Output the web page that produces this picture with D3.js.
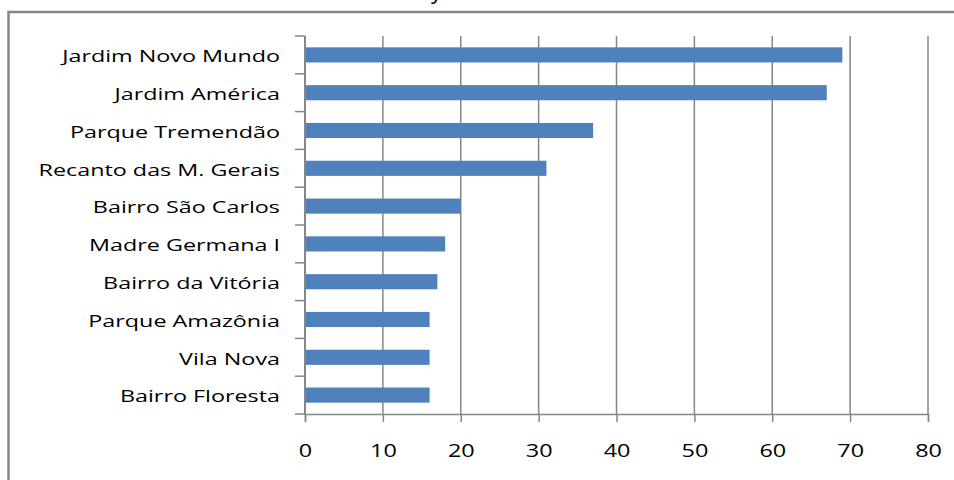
<!DOCTYPE html>
<html>
<head>
<meta charset="utf-8">
<script src="https://cdn.jsdelivr.net/npm/d3@7"></script>
<style>
  body { margin: 0; background: #fff; }
  svg { display: block; }
  text { font-family: "Open Sans", "Noto Sans", sans-serif; fill: #000; }
</style>
</head>
<body>
<div id="chart"></div>
<script>
// neighbourhoods, top to bottom
var bairros = ["Jardim Novo Mundo", "Jardim América", "Parque Tremendão", "Recanto das M. Gerais",
  "Bairro São Carlos", "Madre Germana I", "Bairro da Vitória", "Parque Amazônia", "Vila Nova", "Bairro Floresta"];
var valores = [69, 67, 37, 31, 20, 18, 17, 16, 16, 16];
var xTicks = [0, 10, 20, 30, 40, 50, 60, 70, 80];

var width = 954, height = 480;
var margin = {top: 36, right: 28, bottom: 66, left: 305};
var gridColor = "#868686";

var svg = d3.select("#chart").append("svg").attr("width", width).attr("height", height);

// frame of the copied chart (only top and left edges visible)
svg.append("path").attr("d", "M8.5,480 V12 H954")
  .attr("fill", "none").attr("stroke", gridColor).attr("stroke-width", 2.5);

// bit of the cropped title peeking in at the top
svg.append("text").attr("x", 431).attr("y", -1).attr("font-size", 22).text("y");

var x = d3.scaleLinear().domain([0, 80]).range([margin.left, width - margin.right + 2]);
var y = d3.scaleBand().domain(bairros).range([margin.top, height - margin.bottom]).padding(0);
var bw = y.bandwidth();

// vertical gridlines
svg.append("g").selectAll("line").data(xTicks.slice(1)).join("line")
  .attr("x1", function (d) { return x(d); }).attr("x2", function (d) { return x(d); })
  .attr("y1", margin.top).attr("y2", height - margin.bottom)
  .attr("stroke", gridColor).attr("stroke-width", 1.5);

// bars
svg.append("g").selectAll("rect").data(bairros).join("rect")
  .attr("x", x(0))
  .attr("y", function (d) { return y(d) + bw * 0.3; })
  .attr("width", function (d, i) { return x(valores[i]) - x(0); })
  .attr("height", bw * 0.4)
  .attr("fill", "#4F81BD");

// x axis
var xAxis = svg.append("g")
  .attr("transform", "translate(0," + (height - margin.bottom) + ")")
  .call(d3.axisBottom(x).tickValues(xTicks).tickSize(8).tickPadding(22));
xAxis.select(".domain").attr("stroke", gridColor).attr("stroke-width", 1.5);
xAxis.selectAll(".tick line").attr("stroke", gridColor).attr("stroke-width", 1.5);
xAxis.selectAll(".tick text").attr("font-size", 18).attr("font-family", "Open Sans, sans-serif")
  .attr("fill", "#000").attr("transform", "scale(1.3,1)");

// y axis line and category boundary ticks
var yAxis = svg.append("g");
yAxis.append("line").attr("x1", x(0)).attr("x2", x(0))
  .attr("y1", margin.top).attr("y2", height - margin.bottom)
  .attr("stroke", gridColor).attr("stroke-width", 2);
var bounds = bairros.map(function (d) { return y(d); }).concat([height - margin.bottom]);
yAxis.selectAll(".bt").data(bounds).join("line").attr("class", "bt")
  .attr("x1", x(0) - 10).attr("x2", x(0))
  .attr("y1", function (d) { return d; }).attr("y2", function (d) { return d; })
  .attr("stroke", gridColor).attr("stroke-width", 1.5);

// category labels, stretched sideways like the original
var labels = yAxis.selectAll(".lab").data(bairros).join("g").attr("class", "lab")
  .attr("transform", function (d) { return "translate(280," + (y(d) + bw / 2 + 1.5) + ")"; });
var txt = labels.append("text").attr("text-anchor", "end").attr("dominant-baseline", "central")
  .attr("font-size", 15.5).text(function (d) { return d; });
var w0 = txt.node().getComputedTextLength();
var k = 218 / w0;
txt.attr("transform", "scale(" + k + ",1)");
</script>
</body>
</html>
